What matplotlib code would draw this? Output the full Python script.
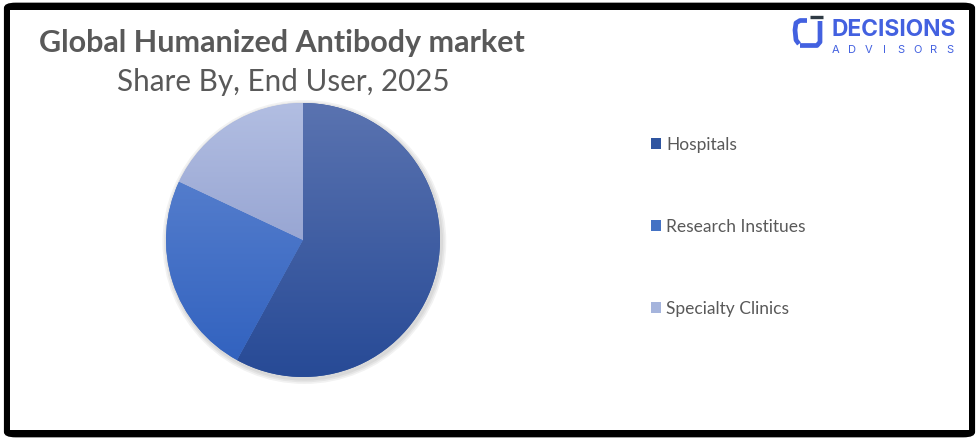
import numpy as np
import matplotlib.pyplot as plt
from matplotlib.patches import FancyBboxPatch, Rectangle, Circle
from matplotlib.colors import LinearSegmentedColormap, to_rgb

# data
segments = ["Hospitals", "Research Institues", "Specialty Clinics"]
shares = [58, 24, 18]
# (top colour, bottom colour) of the vertical gradient on each slice
grad_top = ["#5A73B0", "#6288D2", "#B2BEE2"]
grad_bottom = ["#274A96", "#2F60BE", "#7E8EC4"]
legend_colors = ["#2F55A0", "#4472C4", "#A5B4DC"]

W, H = 979, 440
fig = plt.figure(figsize=(W / 100, H / 100), dpi=100)
fig.patch.set_facecolor("white")

# black frame with rounded outer corners
frame = FancyBboxPatch((0.004, 0.006), 0.992, 0.988,
                       boxstyle="round,pad=0,rounding_size=0.012",
                       transform=fig.transFigure, facecolor="black",
                       edgecolor="none", zorder=-3)
fig.patches.append(frame)
inner = Rectangle((10 / W, 10 / H), (969 - 10) / W, (430 - 10) / H,
                  transform=fig.transFigure, facecolor="white",
                  edgecolor="none", zorder=-2)
fig.patches.append(inner)

# titles
fig.text(282 / W, 1 - 43 / H, "Global Humanized Antibody market",
         ha="center", va="center", fontsize=22, fontweight="bold",
         color="#595959", family="Lato")
fig.text(283 / W, 1 - 82 / H, "Share By, End User, 2025",
         ha="center", va="center", fontsize=21.3, color="#595959",
         family="Lato")

# pie
cx, cy, r = 303, 240, 137
ax = fig.add_axes([(cx - r * 1.05) / W, (H - cy - r * 1.05) / H,
                   2.1 * r / W, 2.1 * r / H])
ax.axis("off")

# soft shadow
for k in range(3):
    ax.add_patch(Circle((0.01, -0.015), 1.0 + 0.012 * (k + 1),
                        facecolor="black", alpha=0.05, edgecolor="none",
                        zorder=0))

wedges, _ = ax.pie(shares, startangle=90, counterclock=False, radius=1,
                   colors=legend_colors,
                   wedgeprops=dict(linewidth=0, edgecolor="none"))
for w, ct, cb in zip(wedges, grad_top, grad_bottom):
    cmap = LinearSegmentedColormap.from_list("g", [to_rgb(cb), to_rgb(ct)])
    grad = np.linspace(0, 1, 256).reshape(-1, 1)
    im = ax.imshow(grad, cmap=cmap, extent=[-1, 1, -1, 1], origin="lower",
                   aspect="auto", zorder=2, interpolation="bicubic")
    im.set_clip_path(w)
ax.set_xlim(-1.05, 1.05)
ax.set_ylim(-1.05, 1.05)
ax.set_aspect("equal")

# legend
handles = [Rectangle((0, 0), 1, 1, facecolor=c, edgecolor="none")
           for c in legend_colors]
leg = fig.legend(handles, segments, loc="center left",
                 bbox_to_anchor=(635 / W, 1 - 227 / H), frameon=False,
                 handlelength=0.6, handleheight=0.6, handletextpad=0.3,
                 labelspacing=3.8, prop=dict(family="Lato", size=12.5))
for t in leg.get_texts():
    t.set_color("#595959")

# logo
blue = "#4361E0"
lg = fig.add_axes([0, 0, 1, 1], facecolor="none")
lg.set_xlim(0, W)
lg.set_ylim(H, 0)
lg.axis("off")
lg.plot([807, 800, 796, 795, 796, 799], [20.5, 20.5, 23, 30, 40, 44],
        color=blue, lw=3.4, solid_capstyle="butt", solid_joinstyle="round")
lg.plot([820, 820, 817, 800], [21, 42, 45.5, 45.5], color=blue,
        lw=3.4, solid_capstyle="butt", solid_joinstyle="round")
lg.plot([810, 823], [17, 17], color="#2F3B44", lw=2.4,
        solid_capstyle="butt")
fig.text(832 / W, 1 - 30 / H, "DECISIONS", ha="left", va="center",
         fontsize=16.4, fontweight="bold", color=blue, family="Inter")
for i, ch in enumerate("ADVISORS"):
    fig.text((836 + i * 16.3) / W, 1 - 50 / H, ch, ha="center",
             va="center", fontsize=8, color=blue, family="Inter")

fig.savefig("out.png", dpi=100)
